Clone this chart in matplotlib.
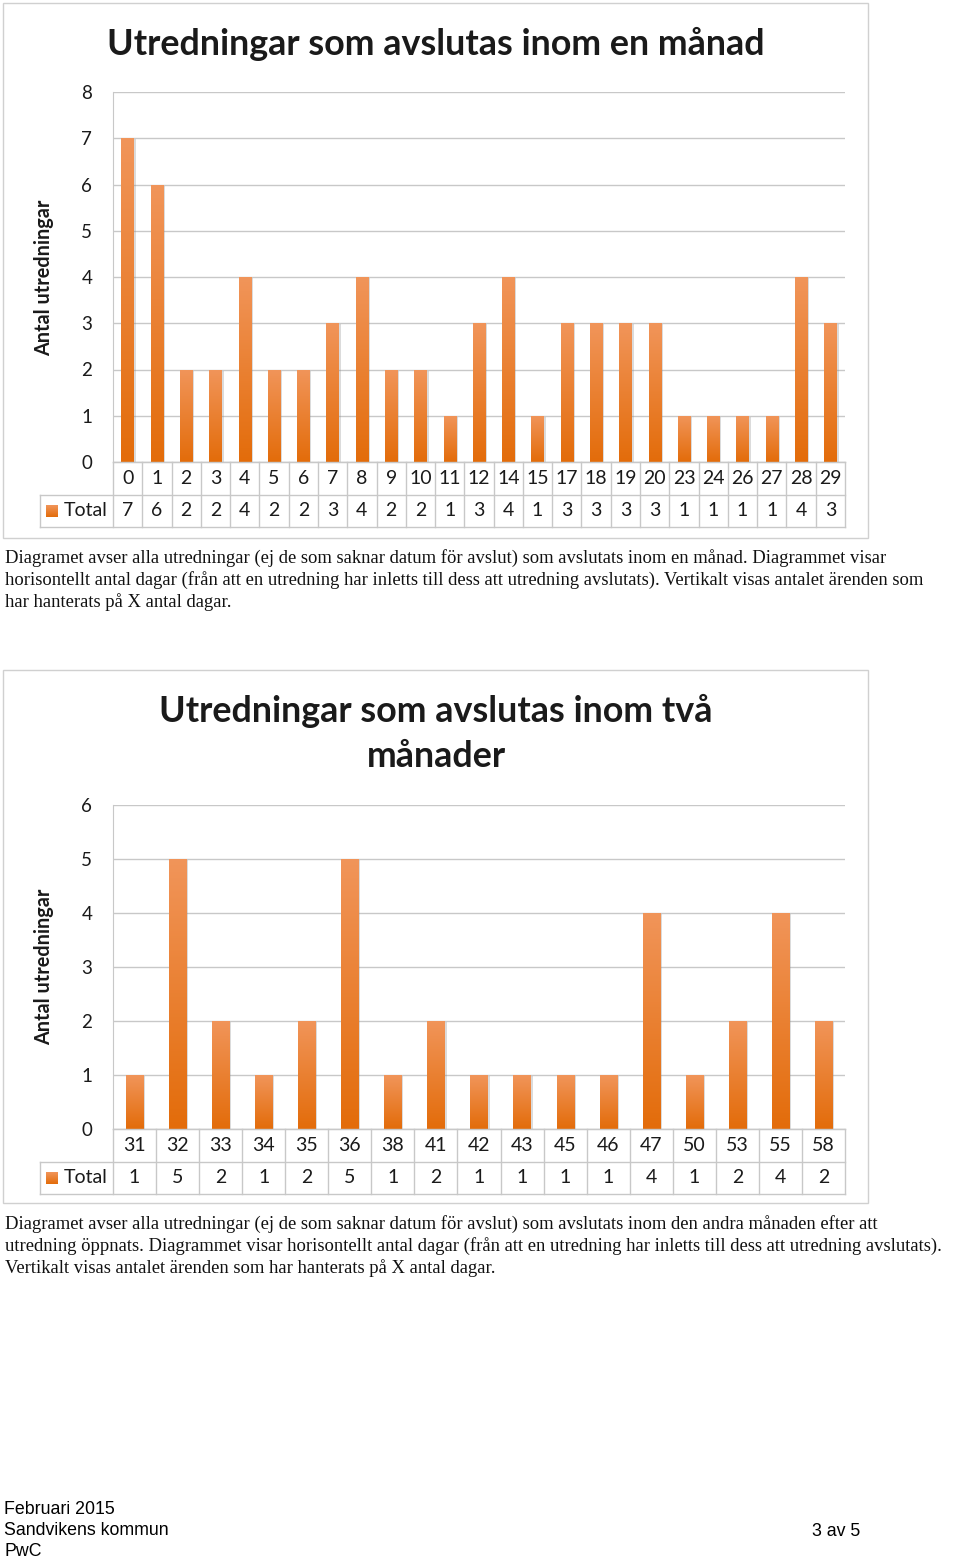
import matplotlib
matplotlib.use('Agg')
import matplotlib.pyplot as plt
import numpy as np
from matplotlib.colors import LinearSegmentedColormap
from matplotlib.patches import Rectangle
import matplotlib.transforms as mtransforms

# ---------------- data ----------------
days1 = ['0', '1', '2', '3', '4', '5', '6', '7', '8', '9', '10', '11', '12', '14',
         '15', '17', '18', '19', '20', '23', '24', '26', '27', '28', '29']
total1 = [7, 6, 2, 2, 4, 2, 2, 3, 4, 2, 2, 1, 3, 4, 1, 3, 3, 3, 3, 1, 1, 1, 1, 4, 3]

days2 = ['31', '32', '33', '34', '35', '36', '38', '41', '42', '43', '45', '46',
         '47', '50', '53', '55', '58']
total2 = [1, 5, 2, 1, 2, 5, 1, 2, 1, 1, 1, 1, 4, 1, 2, 4, 2]

title1 = ['Utredningar som avslutas inom en månad']
title2 = ['Utredningar som avslutas inom två', 'månader']
ylabel = 'Antal utredningar'
series_name = 'Total'

caption1 = ['Diagramet avser alla utredningar (ej de som saknar datum för avslut) som avslutats inom en månad. Diagrammet visar',
            'horisontellt antal dagar (från att en utredning har inletts till dess att utredning avslutats). Vertikalt visas antalet ärenden som',
            'har hanterats på X antal dagar.']
caption2 = ['Diagramet avser alla utredningar (ej de som saknar datum för avslut) som avslutats inom den andra månaden efter att',
            'utredning öppnats. Diagrammet visar horisontellt antal dagar (från att en utredning har inletts till dess att utredning avslutats).',
            'Vertikalt visas antalet ärenden som har hanterats på X antal dagar.']
footer = ['Februari 2015', 'Sandvikens kommun', 'PwC']
page = '3 av 5'

# ---------------- style ----------------
W, H = 960, 1558
SANS = ['Lato', 'DejaVu Sans']
SERIF = ['Liberation Serif', 'DejaVu Serif']
GRID = '#c8c8c8'
TXT = '#1a1a1a'
cmap = LinearSegmentedColormap.from_list('org', ['#e36c0a', '#f1955a'])

fig = plt.figure(figsize=(W / 100, H / 100), dpi=100)


def fx(x):
    return x / W


def fy(y):
    return 1 - y / H


def box(x0, y0, x1, y1):
    return [x0 / W, 1 - y1 / H, (x1 - x0) / W, (y1 - y0) / H]


def draw_chart(cats, vals, ymax, frame, plot, row_h, titles, title_y0, title_dy,
               ylab_y, captions, cap_y0, bar_w):
    # frame
    fr = Rectangle((fx(frame[0]), fy(frame[3])), fx(frame[2] - frame[0]),
                   (frame[3] - frame[1]) / H, transform=fig.transFigure,
                   fill=False, edgecolor='#d0d0d0', linewidth=1.0)
    fig.patches.append(fr)

    n = len(cats)
    ax = fig.add_axes(box(*plot))
    x = np.arange(n)
    bars = ax.bar(x, vals, width=bar_w, color='#e87a2e', zorder=3, linewidth=0)
    grad = np.linspace(1, 0, 256).reshape(-1, 1)
    for b in bars:
        bx, bw, bh = b.get_x(), b.get_width(), b.get_height()
        sh = Rectangle((bx, 0), bw, bh, facecolor='#8a8a8a', alpha=0.3,
                       linewidth=0, zorder=2,
                       transform=ax.transData + mtransforms.ScaledTranslation(
                           2 / 100, -1 / 100, fig.dpi_scale_trans))
        ax.add_patch(sh)
        im = ax.imshow(grad, extent=[bx, bx + bw, 0, bh], aspect='auto',
                       cmap=cmap, zorder=4, interpolation='bilinear')
        im.set_clip_path(b)
    ax.set_xlim(-0.5, n - 0.5)
    ax.set_ylim(0, ymax)
    ax.set_yticks(range(ymax + 1))
    ax.set_xticks([])
    ax.grid(axis='y', color=GRID, linewidth=1.0, zorder=0)
    ax.set_axisbelow(True)
    for s in ['top', 'right']:
        ax.spines[s].set_visible(False)
    for s in ['left', 'bottom']:
        ax.spines[s].set_color(GRID)
    ax.tick_params(axis='y', length=0, pad=15, labelsize=13.5, labelcolor=TXT)
    for lbl in ax.get_yticklabels():
        lbl.set_fontfamily(SANS)

    # table
    colw = (plot[2] - plot[0]) / n
    leg_left = 40
    tx = fig.add_axes(box(leg_left, plot[3], plot[2], plot[3] + 2 * row_h))
    xl = -0.5 - (plot[0] - leg_left) / colw
    tx.set_xlim(xl, n - 0.5)
    tx.set_ylim(2, 0)
    tx.axis('off')
    lk = dict(color=GRID, linewidth=1.0, clip_on=False)
    tx.plot([-0.5, n - 0.5], [0, 0], **lk)
    tx.plot([xl, n - 0.5], [1, 1], **lk)
    tx.plot([xl, n - 0.5], [2, 2], **lk)
    tx.plot([xl, xl], [1, 2], **lk)
    for i in range(n + 1):
        tx.plot([i - 0.5, i - 0.5], [0, 2], **lk)
    for i in range(n):
        tx.text(i, 0.5, cats[i], ha='center', va='center', fontsize=14,
                color=TXT, family=SANS)
        tx.text(i, 1.5, str(vals[i]), ha='center', va='center', fontsize=14,
                color=TXT, family=SANS)
    # legend key
    kx = xl + 6 / colw
    kw = 12 / colw
    key = Rectangle((kx, 1.5 - 6 / row_h), kw, 12 / row_h, linewidth=0,
                    facecolor='#e87a2e')
    tx.add_patch(key)
    kim = tx.imshow(grad, extent=[kx, kx + kw, 1.5 + 6 / row_h, 1.5 - 6 / row_h],
                    aspect='auto', cmap=cmap, zorder=3)
    kim.set_clip_path(key)
    tx.set_xlim(xl, n - 0.5)
    tx.set_ylim(2, 0)
    tx.text(kx + kw + 6 / colw, 1.5, series_name, ha='left', va='center',
            fontsize=14, color=TXT, family=SANS)

    # titles
    for k, t in enumerate(titles):
        fig.text(fx(436), fy(title_y0 + k * title_dy), t, ha='center',
                 va='center', fontsize=25.8, fontweight='bold', color=TXT,
                 family=SANS)
    fig.text(fx(44), fy(ylab_y), ylabel, rotation=90, ha='center', va='center',
             fontsize=14.3, fontweight='bold', color=TXT, family=SANS)
    for k, c in enumerate(captions):
        fig.text(fx(5), fy(cap_y0 + 22 * k), c, ha='left', va='center',
                 fontsize=13.4, color='#111111', family=SERIF)


draw_chart(days1, total1, 8, (3, 3, 868, 538), (113, 92, 845, 462), 32.5,
           title1, 44, 0, 278, caption1, 558, 0.42)
draw_chart(days2, total2, 6, (3, 670, 868, 1203), (113, 805, 845, 1129), 32.5,
           title2, 711, 46, 967, caption2, 1224, 0.40)

FOOT = ['Liberation Sans', 'DejaVu Sans']
for k, t in enumerate(footer):
    fig.text(fx(4), fy(1510 + 20.5 * k), t, ha='left', va='center',
             fontsize=12.8, color='#000000', family=FOOT)
fig.text(fx(860), fy(1531), page, ha='right', va='center', fontsize=12.8,
         color='#000000', family=FOOT)

fig.savefig('out.png', dpi=100, facecolor='white')
